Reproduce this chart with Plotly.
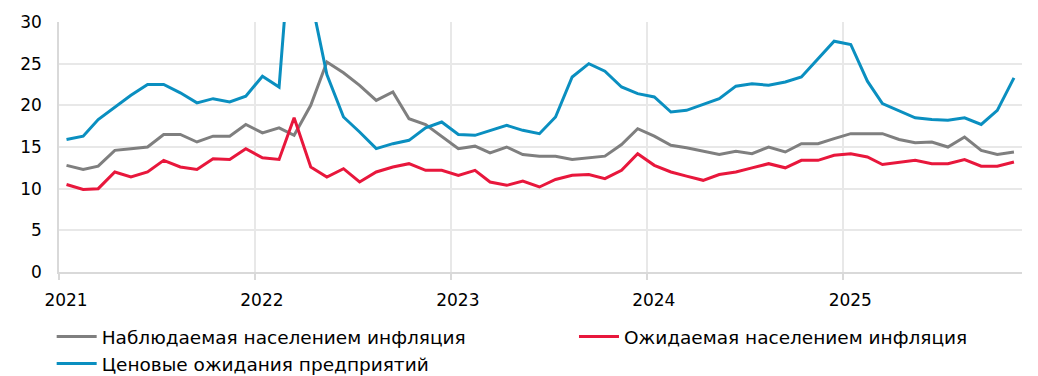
import plotly.graph_objects as go
import pandas as pd

months = pd.date_range("2021-01-01", periods=59, freq="MS") + pd.Timedelta(days=14)
dates = [d.strftime("%Y-%m-%d") for d in months]

observed = [12.8, 12.3, 12.7, 14.6, 14.8, 15.0, 16.5, 16.5, 15.6, 16.3, 16.3, 17.7,
            16.7, 17.3, 16.4, 20.0, 25.2, 23.9, 22.4, 20.6, 21.6, 18.4, 17.7, 16.3,
            14.8, 15.1, 14.3, 15.0, 14.1, 13.9, 13.9, 13.5, 13.7, 13.9, 15.3, 17.2,
            16.3, 15.2, 14.9, 14.5, 14.1, 14.5, 14.2, 15.0, 14.4, 15.4, 15.4, 16.0,
            16.6, 16.6, 16.6, 15.9, 15.5, 15.6, 15.0, 16.2, 14.6, 14.1, 14.4]

expected = [10.5, 9.9, 10.0, 12.0, 11.4, 12.0, 13.4, 12.6, 12.3, 13.6, 13.5, 14.8,
            13.7, 13.5, 18.5, 12.6, 11.4, 12.4, 10.8, 12.0, 12.6, 13.0, 12.2, 12.2,
            11.6, 12.2, 10.8, 10.4, 10.9, 10.2, 11.1, 11.6, 11.7, 11.2, 12.2, 14.2,
            12.8, 12.0, 11.5, 11.0, 11.7, 12.0, 12.5, 13.0, 12.5, 13.4, 13.4, 14.0,
            14.2, 13.8, 12.9, 13.2, 13.4, 13.0, 13.0, 13.5, 12.7, 12.7, 13.2]

business = [15.9, 16.3, 18.3, 19.8, 21.2, 22.5, 22.5, 21.5, 20.3, 20.8, 20.4, 21.1,
            23.5, 22.2, 45.0, 33.0, 23.7, 18.6, 16.8, 14.8, 15.4, 15.8, 17.3, 18.0,
            16.5, 16.4, 17.0, 17.6, 17.0, 16.6, 18.6, 23.4, 25.0, 24.1, 22.2, 21.4,
            21.0, 19.2, 19.4, 20.1, 20.8, 22.3, 22.6, 22.4, 22.8, 23.4, 25.6, 27.7,
            27.3, 22.9, 20.2, 19.3, 18.5, 18.3, 18.2, 18.5, 17.7, 19.4, 23.3]

names = ["Наблюдаемая населением инфляция", "Ожидаемая населением инфляция",
         "Ценовые ожидания предприятий"]
colors = ["#7f7f7f", "#e8173c", "#0a8fc0"]
legend_ids = ["legend", "legend2", "legend"]

fig = go.Figure()
for name, vals, col, lg in zip(names, [observed, expected, business], colors, legend_ids):
    fig.add_trace(go.Scatter(x=dates, y=vals, mode="lines", name=name, legend=lg,
                             line=dict(color=col, width=3)))

font = dict(family="DejaVu Sans, Liberation Sans, Arial", size=17, color="#000000")
lfont = dict(family="DejaVu Sans, Liberation Sans, Arial", size=18.5, color="#000000")
common_leg = dict(orientation="v", xref="container", yref="container",
                  xanchor="left", yanchor="top", y=0.158, font=lfont,
                  itemwidth=40, tracegroupgap=0, bgcolor="rgba(0,0,0,0)")
fig.update_layout(
    width=1030, height=368,
    margin=dict(l=51, r=16, t=14, b=104, autoexpand=False),
    plot_bgcolor="white", paper_bgcolor="white",
    font=font,
    showlegend=True,
    legend=dict(x=0.0424, **common_leg),
    legend2=dict(x=0.5495, **common_leg),
)
fig.update_xaxes(type="date", range=["2021-01-01", "2025-11-30"],
                 tickvals=["2021-01-01", "2022-01-01", "2023-01-01", "2024-01-01", "2025-01-01"],
                 ticktext=["2021", "2022", "2023", "2024", "2025"],
                 showgrid=True, gridcolor="#e8e8e8", gridwidth=1.5,
                 showline=True, linecolor="#d9d9d9", linewidth=1.5,
                 ticks="outside", ticklen=6, tickcolor="#d9d9d9", tickwidth=1.5,
                 ticklabelshift=7, ticklabelstandoff=6, zeroline=False, automargin=False)
fig.update_yaxes(range=[0, 30], tickvals=[0, 5, 10, 15, 20, 25, 30],
                 showgrid=True, gridcolor="#e8e8e8", gridwidth=1.5,
                 showline=True, linecolor="#d9d9d9", linewidth=1.5,
                 ticks="", ticklabelstandoff=12, zeroline=False, automargin=False)

fig.write_html("out.html")
